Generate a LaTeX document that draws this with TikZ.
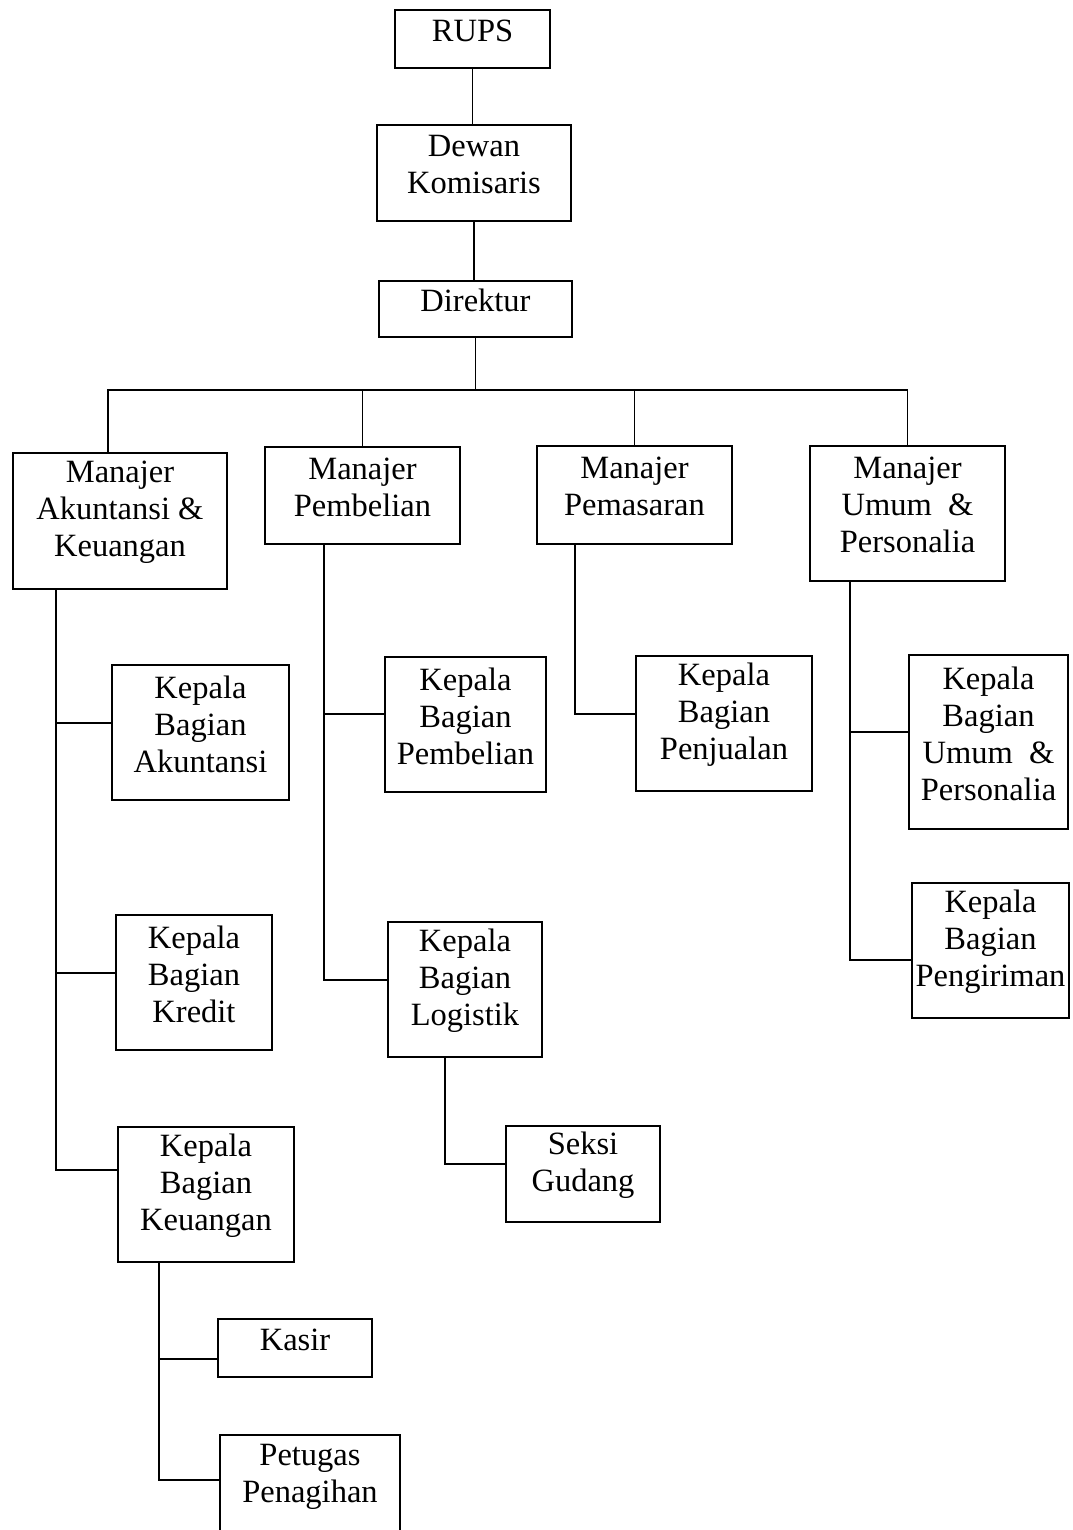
\documentclass[tikz,border=0pt]{standalone}
\usepackage{fontspec}
\setmainfont{Liberation Serif}
\newcommand\orgbox[5]{\node[box, minimum width=#3pt, minimum height=#4pt, label={[txt]center:{#5}}] (#1) at (#2) {};}
\begin{document}
\begin{tikzpicture}[x=1pt,y=-1pt,
  box/.style={draw, line width=1.6pt, inner sep=0pt},
  txt/.style={align=center, inner sep=0pt, yshift=8.5pt, font=\fontsize{32.5}{37}\selectfont},
  ln/.style={line width=1.6pt}]
\useasboundingbox (0,0) rectangle (1072,1530);
\orgbox{rups}{472.5,39}{155}{58}{RUPS}
\orgbox{dk}{474,173}{194}{96}{Dewan\\Komisaris}
\orgbox{dir}{475.5,309}{193}{56}{Direktur}
\orgbox{mak}{120,521}{214}{136}{Manajer\\Akuntansi \&\\Keuangan}
\orgbox{mpb}{362.5,495.5}{195}{97}{Manajer\\Pembelian}
\orgbox{mps}{634.5,495}{195}{98}{Manajer\\Pemasaran}
\orgbox{mup}{907.5,513.5}{195}{135}{Manajer\\Umum \ \&\\Personalia}
\orgbox{kba}{200.5,732.5}{177}{135}{Kepala\\Bagian\\Akuntansi}
\orgbox{kbkr}{194,982.5}{156}{135}{Kepala\\Bagian\\Kredit}
\orgbox{kbku}{206,1194.5}{176}{135}{Kepala\\Bagian\\Keuangan}
\orgbox{kbpb}{465.5,724.5}{161}{135}{Kepala\\Bagian\\Pembelian}
\orgbox{kbl}{465,989.5}{154}{135}{Kepala\\Bagian\\Logistik}
\orgbox{sg}{583,1174}{154}{96}{Seksi\\Gudang}
\orgbox{kbpj}{724,723.5}{176}{135}{Kepala\\Bagian\\Penjualan}
\orgbox{kbup}{988.5,742}{159}{174}{Kepala\\Bagian\\Umum \ \&\\Personalia}
\orgbox{kbpg}{990.5,950.5}{157}{135}{Kepala\\Bagian\\Pengiriman}
\orgbox{kasir}{295,1348}{154}{58}{Kasir}
\orgbox{pp}{310,1485}{180}{100}{Petugas\\Penagihan}
% top chain
\draw[ln] (rups.south) -- (rups.south |- dk.north);
\draw[ln] (dk.south) -- (dk.south |- dir.north);
\coordinate (bus) at (476,390);
\draw[ln] (dir.south) -- (dir.south |- bus);
\draw[ln] ([xshift=-12pt]mak.north) |- (mup.north |- bus) -- (mup.north);
\draw[ln] (mpb.north) -- (mpb.north |- bus);
\draw[ln] (mps.north) -- (mps.north |- bus);
% Akuntansi & Keuangan
\draw[ln] ([xshift=44pt]mak.south west) |- ([yshift=24.5pt]kbku.west);
\draw[ln] ([xshift=44pt]mak.south west) |- ([yshift=9.5pt]kba.west);
\draw[ln] ([xshift=44pt]mak.south west) |- ([yshift=9.5pt]kbkr.west);
% Pembelian
\draw[ln] ([xshift=60pt]mpb.south west) |- ([yshift=9.5pt]kbl.west);
\draw[ln] ([xshift=60pt]mpb.south west) |- ([yshift=10.5pt]kbpb.west);
\draw[ln] ([xshift=58pt]kbl.south west) |- ([yshift=10pt]sg.west);
% Pemasaran
\draw[ln] ([xshift=39pt]mps.south west) |- ([yshift=9.5pt]kbpj.west);
% Umum & Personalia
\draw[ln] ([xshift=41pt]mup.south west) |- ([yshift=-9.5pt]kbpg.west);
\draw[ln] ([xshift=41pt]mup.south west) |- ([yshift=10pt]kbup.west);
% Keuangan
\draw[ln] ([xshift=42pt]kbku.south west) |- ([yshift=5pt]pp.west);
\draw[ln] ([xshift=42pt]kbku.south west) |- ([yshift=-11pt]kasir.west);
\end{tikzpicture}
\end{document}
